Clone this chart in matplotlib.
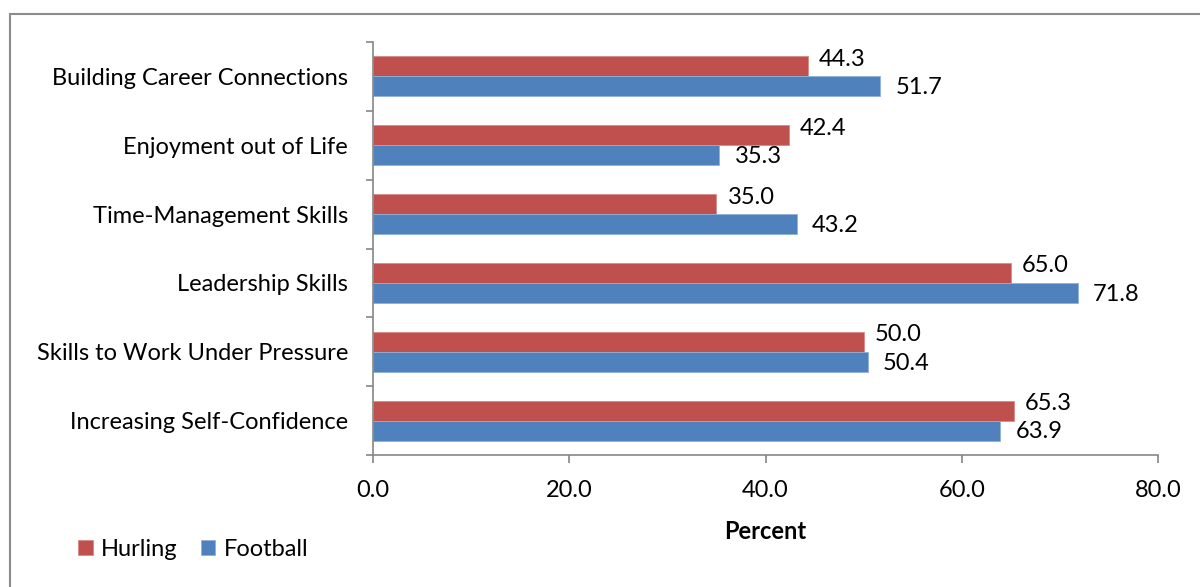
import numpy as np
import matplotlib.pyplot as plt
from matplotlib.patches import Rectangle

# Data (top to bottom as shown)
categories = ['Building Career Connections', 'Enjoyment out of Life', 'Time-Management Skills',
              'Leadership Skills', 'Skills to Work Under Pressure', 'Increasing Self-Confidence']
hurling = [44.3, 42.4, 35.0, 65.0, 50.0, 65.3]
football = [51.7, 35.3, 43.2, 71.8, 50.4, 63.9]
x_ticks = [0, 20, 40, 60, 80]

red = '#C0504D'
blue = '#4F81BD'
axis_gray = '#868686'

plt.rcParams['font.family'] = ['Lato', 'DejaVu Sans']

fig = plt.figure(figsize=(12, 5.87), dpi=100)
ax = fig.add_axes([373 / 1200, 1 - 455 / 587, (1158 - 373) / 1200, (455 - 42) / 587])

# outer chart border (only left/top visible in the reference)
fig.patches.append(Rectangle((10 / 1200, -0.1), 1.2, 1 - 14 / 587 + 0.1,
                             transform=fig.transFigure, fill=False,
                             edgecolor='#8c8c8c', linewidth=1.5))

n = len(categories)
y = np.arange(n)[::-1].astype(float)
h = 0.29

ax.barh(y + h / 2, hurling, height=h, color=red, edgecolor='#d98a88', linewidth=0.6, label='Hurling')
ax.barh(y - h / 2, football, height=h, color=blue, edgecolor='#8fb0d8', linewidth=0.6, label='Football')

fs = 17
for yi, hv, fv in zip(y, hurling, football):
    ax.annotate(f'{hv:.1f}', (hv, yi + h / 2), xytext=(8, 5), textcoords='offset points',
                va='center', ha='left', fontsize=fs)
    ax.annotate(f'{fv:.1f}', (fv, yi - h / 2), xytext=(11, -1), textcoords='offset points',
                va='center', ha='left', fontsize=fs)

ax.set_xlim(0, 80)
ax.set_ylim(-0.5, n - 0.5)
ax.set_xticks(x_ticks)
ax.set_xticklabels([f'{t:.1f}' for t in x_ticks], fontsize=fs)
ax.set_yticks(np.arange(n + 1) - 0.5)
ax.set_yticklabels([])
ax.set_yticks(y, minor=True)
ax.set_yticklabels(categories, minor=True, fontsize=fs)
ax.tick_params(axis='y', which='minor', length=0, pad=18)
ax.tick_params(axis='y', which='major', length=5, color=axis_gray, width=1.2, direction='out')
ax.tick_params(axis='x', length=6, color=axis_gray, width=1.2, direction='out', pad=12)

for s in ['top', 'right']:
    ax.spines[s].set_visible(False)
for s in ['left', 'bottom']:
    ax.spines[s].set_color(axis_gray)
    ax.spines[s].set_linewidth(1.2)

ax.set_xlabel('Percent', fontsize=fs, fontweight='bold', labelpad=14)

ax.legend(loc='center left', bbox_to_anchor=(69 / 1200, 1 - 549 / 587),
          bbox_transform=fig.transFigure, ncol=2, frameon=False, fontsize=fs,
          handlelength=0.6, handleheight=0.6, handletextpad=0.35, columnspacing=1.0,
          borderaxespad=0)

fig.savefig('out.png', dpi=100)
